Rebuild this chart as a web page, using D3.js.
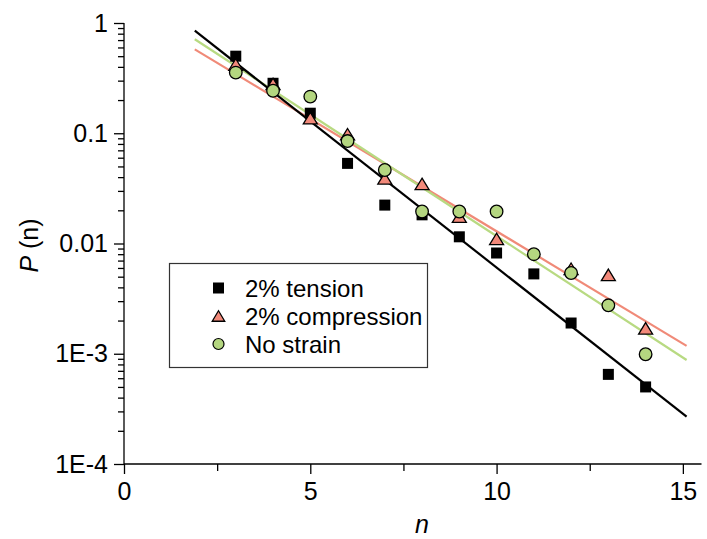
<!DOCTYPE html>
<html>
<head>
<meta charset="utf-8">
<script src="https://cdn.jsdelivr.net/npm/d3@7"></script>
<style>
  html, body { margin: 0; padding: 0; background: #fff; }
  svg { display: block; }
  text { font-family: "Liberation Sans", Arial, Helvetica, sans-serif; fill: #000; }
</style>
</head>
<body>
<svg id="chart" width="707" height="539"></svg>
<script>
// Cluster-size distribution P(n) for three strain states
const tensionN = [3, 4, 5, 6, 7, 8, 9, 10, 11, 12, 13, 14];
const tensionP = [0.50, 0.284, 0.152, 0.0533, 0.0223, 0.0182, 0.0115, 0.0082, 0.0053, 0.0019, 0.00065, 0.0005];

const compressionN = [3, 4, 5, 6, 7, 8, 9, 10, 12, 13, 14];
const compressionP = [0.42, 0.28, 0.137, 0.098, 0.039, 0.0347, 0.0175, 0.011, 0.0059, 0.0052, 0.0017];

const noStrainN = [3, 4, 5, 6, 7, 8, 9, 10, 11, 12, 13, 14];
const noStrainP = [0.355, 0.243, 0.215, 0.085, 0.0464, 0.0195, 0.0195, 0.0195, 0.0080, 0.0054, 0.00275, 0.00099];

// Exponential fit lines (end points)
const fitN = [1.9, 15.1];
const tensionFit = [0.851, 0.000269];
const compressionFit = [0.577, 0.00118];
const noStrainFit = [0.712, 0.000877];

const legendLabels = ["2% tension", "2% compression", "No strain"];

// Axis ticks
const xMajorTicks = [0, 5, 10, 15];
const xMinorTicks = [2.5, 7.5, 12.5];
const yMajorTicks = [1e-4, 1e-3, 1e-2, 1e-1, 1];
const yTickLabels = ["1E-4", "1E-3", "0.01", "0.1", "1"];

const colors = {
  tensionFill: "#000000",
  compressionFill: "#f2897a",
  compressionLine: "#f08a78",
  noStrainFill: "#b4d680",
  noStrainLine: "#b8da82"
};

const svg = d3.select("#chart");

const x = d3.scaleLinear().domain([0, 15.5]).range([124, 701.5]);
const y = d3.scaleLog().domain([1e-4, 1]).range([464, 23]);

// minor log ticks 2..9 within each decade
const yMinorTicks = [];
for (let d = -4; d < 0; d++) {
  for (let k = 2; k <= 9; k++) yMinorTicks.push(k * Math.pow(10, d));
}

// ---- axes ----
const axisG = svg.append("g");

const yAxisMinor = d3.axisLeft(y).tickValues(yMinorTicks).tickSize(6).tickFormat("");
const yAxisMajor = d3.axisLeft(y).tickValues(yMajorTicks).tickSize(10).tickPadding(6)
  .tickFormat((d, i) => yTickLabels[i]);

axisG.append("g").attr("transform", "translate(124,0)").call(yAxisMinor)
  .call(g => g.select(".domain").remove());
axisG.append("g").attr("transform", "translate(124,0)").call(yAxisMajor)
  .call(g => g.select(".domain").attr("d", `M0,${y(1e-4)}V${y(1)}`));

const xAxisMinor = d3.axisBottom(x).tickValues(xMinorTicks).tickSize(7).tickFormat("");
const xAxisMajor = d3.axisBottom(x).tickValues(xMajorTicks).tickSize(10).tickPadding(8)
  .tickFormat(d3.format("d"));

axisG.append("g").attr("transform", "translate(0,464)").call(xAxisMinor)
  .call(g => g.select(".domain").remove());
axisG.append("g").attr("transform", "translate(0,464)").call(xAxisMajor)
  .call(g => g.select(".domain").attr("d", `M${x(0)},0H${x(15.5)}`));

axisG.selectAll("path.domain").attr("stroke", "#000").attr("stroke-width", 1.3).attr("fill", "none");
axisG.selectAll(".tick line").attr("stroke", "#000").attr("stroke-width", 1.3);
axisG.selectAll(".tick text").attr("font-size", 25).style("font-family", '"Liberation Sans", Arial, sans-serif');

// axis titles
svg.append("text")
  .attr("transform", `translate(38,${(y(1e-4) + y(1)) / 2 + 2}) rotate(-90)`)
  .attr("text-anchor", "middle")
  .attr("font-size", 25)
  .call(t => {
    t.append("tspan").attr("font-style", "italic").text("P");
    t.append("tspan").text(" (n)");
  });

svg.append("text")
  .attr("x", x(8)).attr("y", 533)
  .attr("text-anchor", "middle")
  .attr("font-size", 25)
  .attr("font-style", "italic")
  .text("n");

// ---- fit lines ----
const line = d3.line().x(d => x(d[0])).y(d => y(d[1]));
const fits = [
  { vals: compressionFit, color: colors.compressionLine },
  { vals: noStrainFit, color: colors.noStrainLine },
  { vals: tensionFit, color: "#000" }
];
svg.append("g").selectAll("path").data(fits).join("path")
  .attr("d", f => line(fitN.map((n, i) => [n, f.vals[i]])))
  .attr("fill", "none")
  .attr("stroke", f => f.color)
  .attr("stroke-width", 2.2);

// ---- markers ----
const sqSize = 11;
const squareSym = d3.symbol().type(d3.symbolSquare).size(sqSize * sqSize);
const triSize = 60;
const triSym = d3.symbol().type(d3.symbolTriangle).size(triSize * 1.1);

svg.append("g").selectAll("rect").data(tensionN.map((n, i) => [n, tensionP[i]])).join("rect")
  .attr("x", d => x(d[0]) - sqSize / 2)
  .attr("y", d => y(d[1]) - sqSize / 2)
  .attr("width", sqSize).attr("height", sqSize)
  .attr("fill", colors.tensionFill);

// triangle with its bounding box centred on the point
function triPath(cx, cy, w, h) {
  return `M${cx},${cy - h / 2}L${cx + w / 2},${cy + h / 2}L${cx - w / 2},${cy + h / 2}Z`;
}

svg.append("g").selectAll("path").data(compressionN.map((n, i) => [n, compressionP[i]])).join("path")
  .attr("d", d => triPath(x(d[0]), y(d[1]), 14, 11.5))
  .attr("fill", colors.compressionFill)
  .attr("stroke", "#000")
  .attr("stroke-width", 1.3)
  .attr("stroke-linejoin", "miter");

svg.append("g").selectAll("circle").data(noStrainN.map((n, i) => [n, noStrainP[i]])).join("circle")
  .attr("cx", d => x(d[0]))
  .attr("cy", d => y(d[1]))
  .attr("r", 6.3)
  .attr("fill", colors.noStrainFill)
  .attr("stroke", "#000")
  .attr("stroke-width", 1.3);

// ---- legend ----
const legend = svg.append("g");
legend.append("rect")
  .attr("x", 169.5).attr("y", 263.5)
  .attr("width", 258).attr("height", 104)
  .attr("fill", "#fff")
  .attr("stroke", "#333")
  .attr("stroke-width", 1.2);

const rowY = [288, 316, 344];
legend.append("rect")
  .attr("x", 218.5 - 5.5).attr("y", rowY[0] - 5.5)
  .attr("width", 11).attr("height", 11)
  .attr("fill", colors.tensionFill);
legend.append("path")
  .attr("d", triPath(218.5, rowY[1], 12.5, 10.5))
  .attr("fill", colors.compressionFill)
  .attr("stroke", "#000").attr("stroke-width", 1.3);
legend.append("circle")
  .attr("cx", 218.5).attr("cy", rowY[2]).attr("r", 5.5)
  .attr("fill", colors.noStrainFill)
  .attr("stroke", "#000").attr("stroke-width", 1.2);

legend.selectAll("text.lbl").data(legendLabels).join("text")
  .attr("class", "lbl")
  .attr("x", 245)
  .attr("y", (d, i) => rowY[i] + 8.5)
  .attr("font-size", 24)
  .text(d => d);
</script>
</body>
</html>
